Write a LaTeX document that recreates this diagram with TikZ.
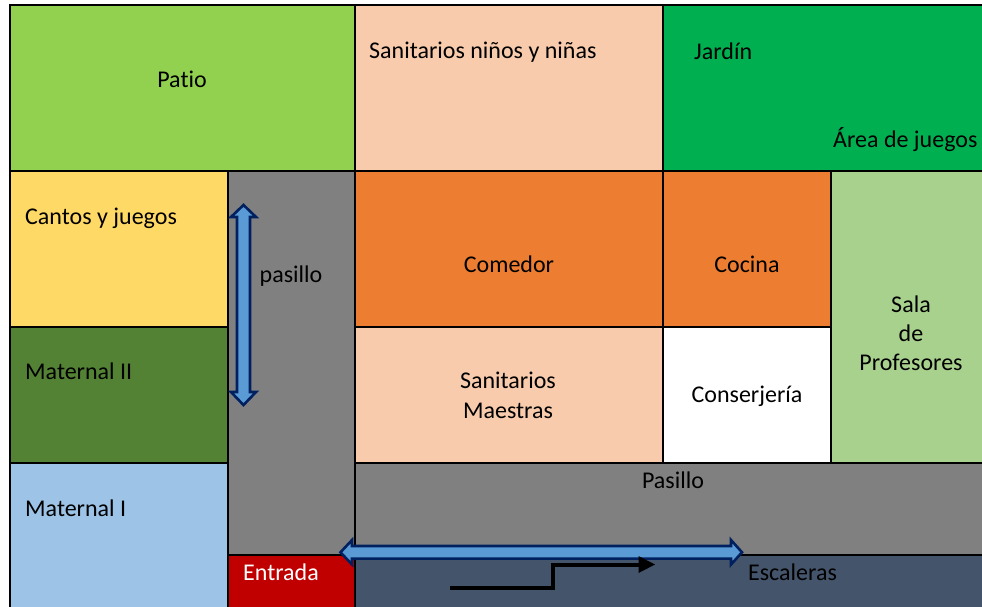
\documentclass[tikz,border=0pt]{standalone}
\usepackage{fontspec}
\setmainfont[Ligatures=NoCommon]{Carlito}
\definecolor{cPatio}{HTML}{92D050}
\definecolor{cSan}{HTML}{F7CBAC}
\definecolor{cJardin}{HTML}{00B050}
\definecolor{cCantos}{HTML}{FFD966}
\definecolor{cMatII}{HTML}{548235}
\definecolor{cMatI}{HTML}{9DC3E6}
\definecolor{cCom}{HTML}{ED7D31}
\definecolor{cSala}{HTML}{A9D18E}
\definecolor{cPas}{HTML}{808080}
\definecolor{cEnt}{HTML}{C00000}
\definecolor{cEsc}{HTML}{44546A}
\definecolor{cArrF}{HTML}{5B9BD5}
\definecolor{cArrD}{HTML}{002060}
\tikzset{
  room/.style={draw=black,line width=2pt},
  label/.style={font=\fontsize{24}{29}\selectfont,text=black,inner sep=0pt,align=center},
  blockarrow/.style={fill=cArrF,draw=cArrD,line width=2.6pt,line join=miter},
}
\begin{document}
\begin{tikzpicture}[x=1pt,y=-1pt]
\useasboundingbox (0,0) rectangle (982,606);
% rooms
\fill[white] (0,0) rectangle (982,606);
\filldraw[room,fill=cPatio] (10,5) rectangle (355,171);
\filldraw[room,fill=cSan] (355,5) rectangle (663,171);
\filldraw[room,fill=cJardin] (663,5) rectangle (984,171);
\filldraw[room,fill=cCantos] (10,171) rectangle (228,327);
\filldraw[room,fill=cMatII] (10,327) rectangle (228,463);
\filldraw[room,fill=cMatI] (10,463) rectangle (228,608);
\filldraw[room,fill=cPas] (228,171) rectangle (355,555);
\filldraw[room,fill=cCom] (355,171) rectangle (663,327);
\filldraw[room,fill=cCom] (663,171) rectangle (831,327);
\filldraw[room,fill=cSala] (831,171) rectangle (984,463);
\filldraw[room,fill=cSan] (355,327) rectangle (663,463);
\filldraw[room,fill=white] (663,327) rectangle (831,463);
\filldraw[room,fill=cPas] (355,463) rectangle (984,555);
\filldraw[room,fill=cEnt] (228,555) rectangle (355,608);
\filldraw[room,fill=cEsc] (355,555) rectangle (984,608);
% labels
\node[label] (patio) at (182,79) {Patio};
\node[label,anchor=west] (sanin) at (369,52) {Sanitarios niños y niñas};
\node[label,anchor=west] (jardin) at (694,51) {Jardín};
\node[label,anchor=west] (areaj) at (833,140) {Área de juegos};
\node[label,anchor=west] (cantos) at (25,218) {Cantos y juegos};
\node[label,anchor=west] (matii) at (25,371) {Maternal II};
\node[label,anchor=west] (mati) at (25,508) {Maternal I};
\node[label] (pasv) at (291,276) {pasillo};
\node[label] (comedor) at (509,264) {Comedor};
\node[label] (cocina) at (747,264) {Cocina};
\node[label,text width=130pt,font=\fontsize{24}{29}\selectfont] (sala) at (911,333) {Sala\\de\\Profesores};
\node[label,text width=130pt,font=\fontsize{24}{30}\selectfont] (sanm) at (508,395) {Sanitarios\\Maestras};
\node[label] (conserje) at (747,396) {Conserjería};
\node[label] (pash) at (673,480) {Pasillo};
\node[label,text=white] (entrada) at (281,572) {Entrada};
\node[label] (esc) at (792.5,572) {Escaleras};
% block arrows
\draw[blockarrow] (243.5,205) -- (256,217) -- (250,217) -- (250,392) -- (256,392) -- (243.5,405) -- (231,392) -- (237,392) -- (237,217) -- (231,217) -- cycle;
\draw[blockarrow] (340.5,552.3) -- (352,540) -- (352,546) -- (731,546) -- (731,540) -- (742,552.3) -- (731,564.5) -- (731,558.6) -- (352,558.6) -- (352,564.5) -- cycle;
% stair arrow
\draw[black,line width=4pt,line join=miter] (450,588) -- (552.7,588) -- (552.7,564.5) -- (640,564.5);
\fill[black] (655,564.5) -- (638.5,556) -- (638.5,573) -- cycle;
\end{tikzpicture}
\end{document}
